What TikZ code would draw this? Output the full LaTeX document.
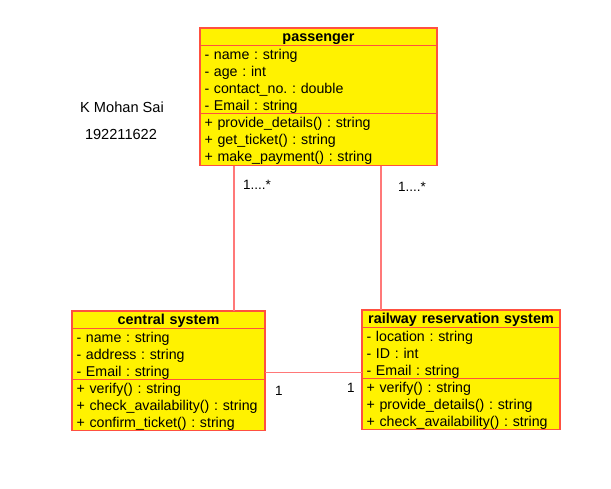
\documentclass[tikz,border=0pt]{standalone}
\usepackage{fontspec}
\setmainfont{Liberation Sans}
\usetikzlibrary{positioning}
\definecolor{boxred}{RGB}{255,80,64}
\definecolor{linkred}{RGB}{255,120,120}
\frenchspacing
\begin{document}
\begin{tikzpicture}[x=1pt,y=-1pt,
  box/.style={draw=boxred, fill=yellow, line width=1.2pt, outer sep=0pt,
    inner xsep=4.5pt, inner ysep=0pt, anchor=north west, align=left,
    font=\fontsize{14.2}{17}\selectfont,
    execute at begin node={\rule[-3.5pt]{0pt}{17pt}},
    execute at end node={\rule[-3.5pt]{0pt}{17pt}}},
  classname/.style={box, align=center, font=\fontsize{14.4}{17}\selectfont\bfseries,
    execute at begin node={\rule[-4pt]{0pt}{17pt}},
    execute at end node={}},
  link/.style={draw=linkred, line width=1.2pt},
  mult/.style={font=\fontsize{13.5}{15}\selectfont}]

  \useasboundingbox (0,0) rectangle (611,488);

  % passenger
  \node[classname, text width=228pt, minimum height=17pt] (ptitle) at (200,28) {passenger};
  \node[box, text width=228pt, minimum height=68pt, below=0pt of ptitle] (pattr)
    {- name : string\\- age : int\\- contact\_no. : double\\- Email : string};
  \node[box, text width=228pt, minimum height=52pt, below=0pt of pattr] (pmeth)
    {+ provide\_details() : string\\+ get\_ticket() : string\\+ make\_payment() : string};

  % central system
  \node[classname, text width=184pt, minimum height=17pt] (ctitle) at (72,311) {central system};
  \node[box, text width=184pt, minimum height=51pt, below=0pt of ctitle] (cattr)
    {- name : string\\- address : string\\- Email : string};
  \node[box, text width=184pt, minimum height=51pt, below=0pt of cattr] (cmeth)
    {+ verify() : string\\+ check\_availability() : string\\+ confirm\_ticket() : string};

  % railway reservation system
  \node[classname, text width=189pt, minimum height=17pt] (rtitle) at (362,310) {railway reservation system};
  \node[box, text width=189pt, minimum height=51pt, below=0pt of rtitle] (rattr)
    {- location : string\\- ID : int\\- Email : string};
  \node[box, text width=189pt, minimum height=50pt, below=0pt of rattr] (rmeth)
    {+ verify() : string\\+ provide\_details() : string\\+ check\_availability() : string};

  \draw[link] ([xshift=34pt]pmeth.south west) -- ([xshift=34pt]pmeth.south west |- ctitle.north);
  \draw[link] ([xshift=181pt]pmeth.south west) -- ([xshift=181pt]pmeth.south west |- rtitle.north);
  \draw[link] ([yshift=-44pt]cattr.north east) -- ([yshift=-44pt]cattr.north east -| rattr.west);

  \node[mult] (m1) at (257,185) {1....*};
  \node[mult] (m2) at (412,187) {1....*};
  \node[mult] (m3) at (279,391) {1};
  \node[mult] (m4) at (351,388) {1};

  \node[font=\fontsize{14.6}{17}\selectfont] (name) at (122,107) {K Mohan Sai};
  \node[font=\fontsize{14.6}{17}\selectfont] (regno) at (121,134) {192211622};
\end{tikzpicture}
\end{document}
